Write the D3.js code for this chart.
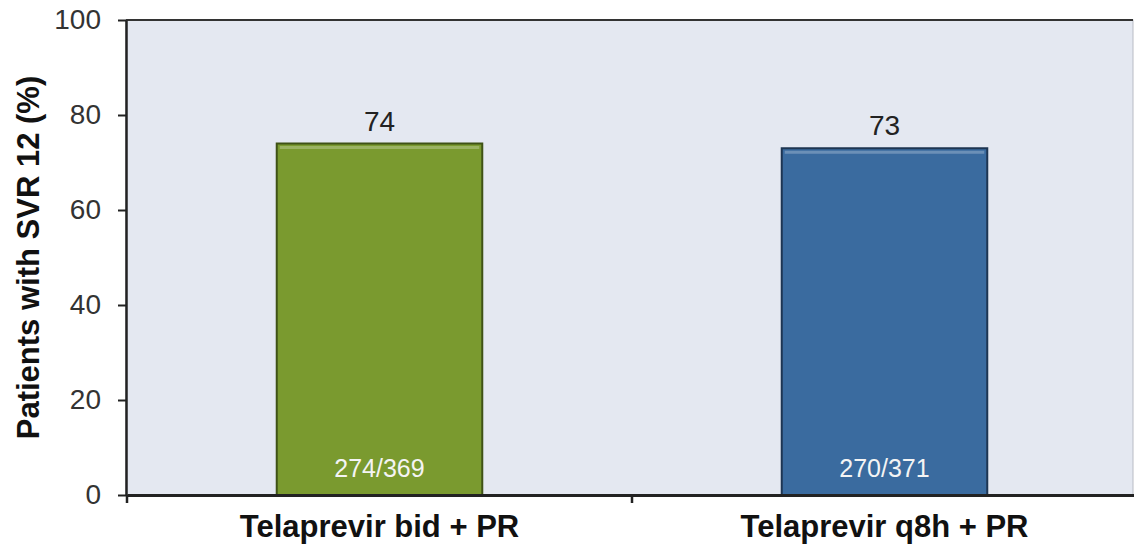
<!doctype html>
<html lang="en">
<head>
  <meta charset="utf-8">
  <title>SVR 12 - D3</title>
  <style>
    body { margin: 0; background: #fff; }
    text { font-family: Arial, "Liberation Sans", sans-serif; }
  </style>
</head>
<body>
  <svg></svg>
  <script src="https://cdn.jsdelivr.net/npm/d3@7"></script>
  <script>
    const width = 1134;
    const height = 549;
    const margin = { top: 20, right: 1, bottom: 54, left: 126 };

    // 数据
    const categories = ['Telaprevir bid + PR', 'Telaprevir q8h + PR'];
    const values = [74, 73];
    const counts = ['274/369', '270/371'];
    const yTicks = [0, 20, 40, 60, 80, 100];
    const colors = ['#7a9a2f', '#3a6b9f'];
    const edges = ['#3f5216', '#1d3552'];

    const svg = d3.select('svg')
      .attr('width', width)
      .attr('height', height)
      .attr('viewBox', [0, 0, width, height]);

    const innerW = width - margin.left - margin.right;
    const innerH = height - margin.top - margin.bottom;

    // 绘图区略超出画面右侧
    const x = d3.scaleBand()
      .domain(categories)
      .range([margin.left + 1, width + 3]);

    const y = d3.scaleLinear()
      .domain([0, 100])
      .range([height - margin.bottom, margin.top]);

    const barW = x.bandwidth() * 0.407;

    // 绘图区背景
    svg.append('rect')
      .attr('x', margin.left)
      .attr('y', margin.top)
      .attr('width', innerW)
      .attr('height', innerH)
      .attr('fill', '#e4e8f1')
      .attr('stroke', '#b9bcc4')
      .attr('stroke-width', 1);

    // 顶部边框
    svg.append('line')
      .attr('x1', margin.left).attr('x2', width - margin.right)
      .attr('y1', margin.top).attr('y2', margin.top)
      .attr('stroke', '#333').attr('stroke-width', 2);

    // 柱子
    const bars = svg.append('g')
      .selectAll('g')
      .data(categories)
      .enter()
      .append('g');

    bars.append('rect')
      .attr('x', d => x(d) + (x.bandwidth() - barW) / 2)
      .attr('y', (d, i) => y(values[i]))
      .attr('width', barW)
      .attr('height', (d, i) => y(0) - y(values[i]))
      .attr('fill', (d, i) => colors[i])
      .attr('stroke', (d, i) => edges[i])
      .attr('stroke-width', 2);

    // 顶部高光
    bars.append('line')
      .attr('x1', d => x(d) + (x.bandwidth() - barW) / 2 + 3)
      .attr('x2', d => x(d) + (x.bandwidth() + barW) / 2 - 3)
      .attr('y1', (d, i) => y(values[i]) + 4)
      .attr('y2', (d, i) => y(values[i]) + 4)
      .attr('stroke', '#ffffff')
      .attr('stroke-opacity', 0.25)
      .attr('stroke-width', 3);

    // 数值标签
    bars.append('text')
      .attr('x', d => x(d) + x.bandwidth() / 2)
      .attr('y', (d, i) => y(values[i]) - 13)
      .attr('text-anchor', 'middle')
      .attr('font-size', 28)
      .attr('fill', '#222')
      .text((d, i) => values[i]);

    bars.append('text')
      .attr('x', d => x(d) + x.bandwidth() / 2)
      .attr('y', y(0) - 18)
      .attr('text-anchor', 'middle')
      .attr('font-size', 25)
      .attr('fill', '#f4f4f4')
      .text((d, i) => counts[i]);

    // 纵坐标
    svg.append('g')
      .attr('transform', 'translate(' + margin.left + ',0)')
      .call(d3.axisLeft(y).tickValues(yTicks).tickSize(8).tickPadding(17).tickSizeOuter(0))
      .call(g => g.select('.domain').attr('stroke', '#222').attr('stroke-width', 2.5))
      .call(g => g.selectAll('.tick line').attr('stroke', '#222').attr('stroke-width', 2))
      .call(g => g.selectAll('.tick text')
        .attr('font-size', 28)
        .attr('fill', '#333')
        .attr('font-family', 'Arial, "Liberation Sans", sans-serif'));

    // 横坐标
    svg.append('g')
      .attr('transform', 'translate(0,' + (height - margin.bottom) + ')')
      .call(d3.axisBottom(x).tickSize(0).tickPadding(20).tickSizeOuter(0))
      .call(g => g.select('.domain').attr('stroke', '#222').attr('stroke-width', 3))
      .call(g => g.selectAll('.tick text')
        .attr('font-size', 31)
        .attr('font-weight', 'bold')
        .attr('fill', '#111')
        .attr('font-family', 'Arial, "Liberation Sans", sans-serif'));

    // 分类分隔刻度
    svg.append('g')
      .selectAll('line')
      .data(categories)
      .enter()
      .append('line')
      .attr('x1', d => x(d))
      .attr('x2', d => x(d))
      .attr('y1', y(0))
      .attr('y2', y(0) + 8)
      .attr('stroke', '#222')
      .attr('stroke-width', 2.5);

    // 纵坐标标题
    svg.append('text')
      .attr('transform', 'translate(39,' + (margin.top + innerH / 2) + ') rotate(-90)')
      .attr('text-anchor', 'middle')
      .attr('font-size', 31)
      .attr('font-weight', 'bold')
      .attr('fill', '#111')
      .text('Patients with SVR 12 (%)');
  </script>
</body>
</html>
